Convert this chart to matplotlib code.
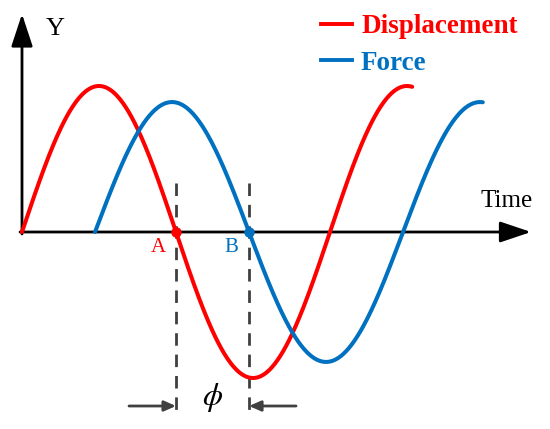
import numpy as np
import matplotlib
matplotlib.use("Agg")
import matplotlib.pyplot as plt

# ---- data (schematic sine waves, parameters) ----
series_names = ["Displacement", "Force"]
series_colors = ["#FF0000", "#0070C0"]
amplitudes = [1.0, 0.89]          # relative amplitudes
phase_lag = [0.0, 1.49]           # start time (rad) of each wave
end_time = [7.96, 9.40]           # end time (rad) of each wave
point_labels = ["A", "B"]

plt.rcParams["mathtext.fontset"] = "stix"
serif = ["Liberation Serif", "DejaVu Serif"]

fig = plt.figure(figsize=(5.5, 4.29), dpi=100)
ax = fig.add_axes([0, 0, 1, 1])
ax.set_axis_off()

# pixel -> data mapping constants
PX_PER_RAD = 308 / (2 * np.pi)
PX_PER_AMP = 146
X0, Y0 = 22, 232
ax.set_xlim(-X0 / PX_PER_RAD, (550 - X0) / PX_PER_RAD)
ax.set_ylim(-(429 - Y0) / PX_PER_AMP, Y0 / PX_PER_AMP)

def px(x, y):
    return ((x - X0) / PX_PER_RAD, (Y0 - y) / PX_PER_AMP)

# axes arrows
ax.annotate("", xy=px(531, 232), xytext=px(20, 232),
            arrowprops=dict(arrowstyle="-|>,head_length=0.95,head_width=0.32",
                            mutation_scale=20, color="black", lw=2.0,
                            shrinkA=0, shrinkB=0), zorder=2)
ax.annotate("", xy=px(22, 14), xytext=px(22, 234),
            arrowprops=dict(arrowstyle="-|>,head_length=1.0,head_width=0.33",
                            mutation_scale=20, color="black", lw=2.0,
                            shrinkA=0, shrinkB=0), zorder=2)

# waves
for name, c, a, t0, t1 in zip(series_names, series_colors, amplitudes, phase_lag, end_time):
    t = np.linspace(t0, t1, 400)
    ax.plot(t, a * np.sin(t - t0), color=c, lw=2.9, solid_capstyle="round", zorder=3)

# zero crossings A and B
crossings = [t0 + np.pi for t0 in phase_lag]
y_top = px(0, 183)[1]
y_bot = px(0, 416)[1]
for xc in crossings:
    ax.plot([xc, xc], [y_top, y_bot], color="#404040", lw=2.0,
            dashes=(4.5, 3.2), zorder=1)
for xc, c, lab in zip(crossings, series_colors, point_labels):
    ax.plot([xc], [0], "o", color=c, ms=6.5, zorder=4)
    ax.text(xc - 18 / PX_PER_RAD, px(0, 252)[1], lab, color=c, fontsize=15,
            family=serif, ha="center", va="baseline")

# phase-difference arrows
ya = px(0, 406)[1]
ax.annotate("", xy=(crossings[0], ya), xytext=(crossings[0] - 47 / PX_PER_RAD, ya),
            arrowprops=dict(arrowstyle="-|>,head_length=0.5,head_width=0.22",
                            mutation_scale=14, color="#404040", lw=2.0,
                            shrinkA=0, shrinkB=0))
ax.annotate("", xy=(crossings[1], ya), xytext=(crossings[1] + 47 / PX_PER_RAD, ya),
            arrowprops=dict(arrowstyle="-|>,head_length=0.5,head_width=0.22",
                            mutation_scale=14, color="#404040", lw=2.0,
                            shrinkA=0, shrinkB=0))
ax.text(np.mean(crossings), px(0, 398)[1], r"$\phi$", fontsize=23,
        ha="center", va="center", color="black")

# axis labels
ax.text(*px(55, 35), "Y", fontsize=19, family=serif, ha="center", va="baseline")
ax.text(*px(507, 207), "Time", fontsize=18, family=serif, ha="center", va="baseline")

# legend
line_y = [24, 60]
text_base = [33, 70]
for name, c, ly, tb in zip(series_names, series_colors, line_y, text_base):
    x1, y1 = px(321, ly)
    x2, _ = px(352, ly)
    ax.plot([x1, x2], [y1, y1], color=c, lw=2.8)
    ax.text(*px(361, tb), name, color=c, fontsize=19.5, fontweight="bold",
            family=serif, ha="left", va="baseline")

fig.savefig("out.png", dpi=100)
